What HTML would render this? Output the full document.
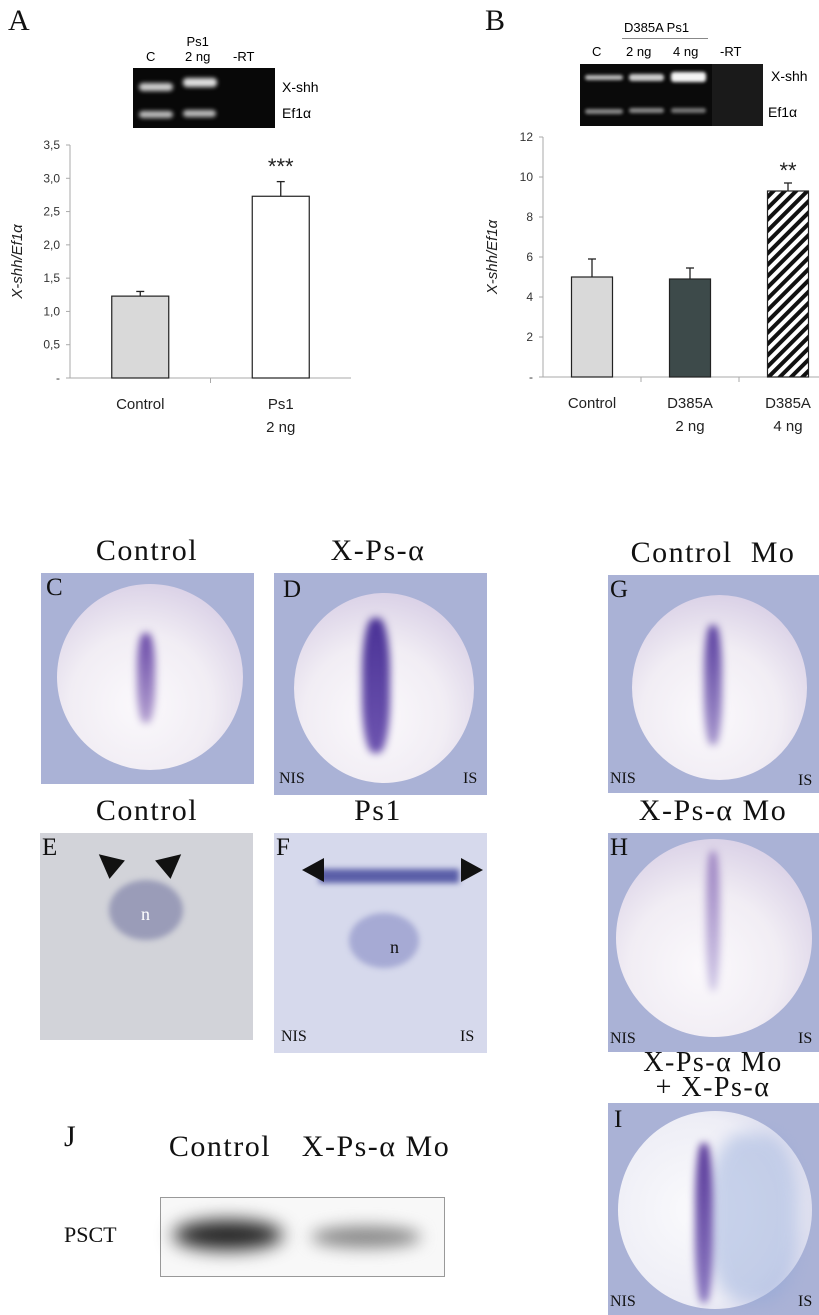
<!DOCTYPE html>
<html><head><meta charset="utf-8"><style>
body{margin:0;width:819px;height:1315px;background:#fff;position:relative;overflow:hidden;font-family:"Liberation Sans",sans-serif}
.a{position:absolute}
.t{position:absolute;font-family:"Liberation Serif",serif;font-size:30px;color:#111;transform:translateX(-50%);white-space:nowrap;letter-spacing:1.5px;z-index:5}
.L{position:absolute;font-family:"Liberation Serif",serif;font-size:25px;color:#111;z-index:5}
.s{position:absolute;font-family:"Liberation Serif",serif;font-size:16px;color:#111;z-index:5}
.p{position:absolute;background:#aab2d6}
.emb{position:absolute;border-radius:50%;background:radial-gradient(circle at 45% 65%,#fbf9fc 0%,#f1edf4 45%,#d9d0e6 80%,#b8abd0 100%)}
.stripe{position:absolute;border-radius:40%;filter:blur(4px)}
</style></head><body>
<svg class="a" style="left:0;top:0" width="819" height="470" id="svg"></svg>
<script>
const catsA=["Control","Ps1|2 ng"];
const valsA=[1.23,2.73];
const errA=[0.07,0.22];
const ticksA=["-","0,5","1,0","1,5","2,0","2,5","3,0","3,5"];
const catsB=["Control","D385A|2 ng","D385A|4 ng"];
const valsB=[5.0,4.9,9.3];
const errB=[0.9,0.55,0.4];
const ticksB=["-","2","4","6","8","10","12"];
const svg=document.getElementById('svg');const NS="http://www.w3.org/2000/svg";
function el(n,a,txt){const e=document.createElementNS(NS,n);for(const k in a)e.setAttribute(k,a[k]);if(txt!==undefined)e.textContent=txt;svg.appendChild(e);return e;}
svg.innerHTML='<defs><pattern id="hatch" width="8" height="8" patternUnits="userSpaceOnUse" patternTransform="rotate(45)"><rect width="8" height="8" fill="#fff"/><rect width="4" height="8" fill="#111"/></pattern></defs>';
function chart(o){
 const y=v=>o.y0-(v/o.max)*(o.y0-o.yTop);
 let ax=el('line',{x1:o.x0,y1:o.yTop,x2:o.x0,y2:o.y0,stroke:'#aaa'});
 
 
 let bx=el('line',{x1:o.x0,y1:o.y0,x2:o.x1,y2:o.y0,stroke:'#aaa'});
 
 
 o.ticks.forEach((t,i)=>{const v=i*o.step;const yy=y(v);
  el('line',{x1:o.x0-4,y1:yy,x2:o.x0,y2:yy,stroke:'#aaa'});
  let tx=el('text',{x:o.x0-10,y:yy+4,'text-anchor':'end','font-size':12,fill:'#333'},t);
  
  });
 const n=o.cats.length,w=(o.x1-o.x0)/n;
 for(let i=1;i<n;i++)el('line',{x1:o.x0+i*w,y1:o.y0,x2:o.x0+i*w,y2:o.y0+5,stroke:'#aaa'});
 o.cats.forEach((c,i)=>{const cx=o.x0+w*(i+0.5),v=o.vals[i],e=o.err[i];
  el('line',{x1:cx,y1:y(v),x2:cx,y2:y(v+e),stroke:'#222','stroke-width':1.3});
  el('line',{x1:cx-4,y1:y(v+e),x2:cx+4,y2:y(v+e),stroke:'#222','stroke-width':1.3});
  let r=el('rect',{x:cx-o.bw/2,y:y(v),width:o.bw,height:o.y0-y(v),fill:o.fills[i],stroke:'#222','stroke-width':1.2});
  
  
  c.split('|').forEach((l,j)=>{let t=el('text',{x:cx,y:o.y0+31+j*23,'text-anchor':'middle','font-size':15,fill:'#222'},l);
   
   });
 });
 let yt=el('text',{x:0,y:0,transform:`translate(${o.tx},${(o.yTop+o.y0)/2}) rotate(-90)`,'text-anchor':'middle','font-size':15,'font-style':'italic',fill:'#222'},'X-shh/Ef1α');
 
 
 let st=el('text',{x:o.x0+w*(n-0.5),y:o.starY,'text-anchor':'middle','font-size':22,fill:'#222'},o.star);
 
 
}
chart({id:'a',cats:catsA,vals:valsA,err:errA,ticks:ticksA,step:0.5,max:3.5,x0:70,x1:351,y0:378,yTop:145,bw:57,fills:['#d9d9d9','#fff'],tx:22,star:'***',starY:174});
chart({id:'b',cats:catsB,vals:valsB,err:errB,ticks:ticksB,step:2,max:12,x0:543,x1:837,y0:377,yTop:137,bw:41,fills:['#d9d9d9','#3d4a4a','url(#hatch)'],tx:497,star:'**',starY:178});
</script>
<div class="L" style="left:8px;top:4px;font-size:30px">A</div>
<div class="L" style="left:485px;top:4px;font-size:30px">B</div>
<!-- gel A -->
<div class="a" style="left:133px;top:68px;width:142px;height:60px;background:#080808">
<div class="a" style="left:6px;top:15px;width:34px;height:8px;background:#ccc;border-radius:4px;filter:blur(2px)"></div>
<div class="a" style="left:50px;top:10px;width:34px;height:9px;background:#ddd;border-radius:4px;filter:blur(2px)"></div>
<div class="a" style="left:6px;top:43px;width:34px;height:7px;background:#bbb;border-radius:4px;filter:blur(2px)"></div>
<div class="a" style="left:50px;top:42px;width:33px;height:7px;background:#bbb;border-radius:4px;filter:blur(2px)"></div></div>
<div class="a" style="left:146px;top:49px;font-size:13px">C</div>
<div class="a" style="left:185px;top:34px;font-size:13px;text-align:center;line-height:15px">Ps1<br>2 ng</div>
<div class="a" style="left:233px;top:49px;font-size:13px">-RT</div>
<div class="a" style="left:282px;top:79px;font-size:14px">X-shh</div>
<div class="a" style="left:282px;top:105px;font-size:14px">Ef1α</div>
<!-- gel B -->
<div class="a" style="left:580px;top:64px;width:183px;height:62px;background:#0a0a0a">
<div class="a" style="left:5px;top:11px;width:38px;height:5px;background:#bbb;border-radius:3px;filter:blur(1.5px)"></div>
<div class="a" style="left:49px;top:10px;width:35px;height:7px;background:#ccc;border-radius:3px;filter:blur(1.5px)"></div>
<div class="a" style="left:91px;top:8px;width:35px;height:10px;background:#f4f4f4;border-radius:3px;filter:blur(1.5px)"></div>
<div class="a" style="left:5px;top:45px;width:38px;height:5px;background:#888;border-radius:3px;filter:blur(1.5px)"></div>
<div class="a" style="left:49px;top:44px;width:35px;height:5px;background:#888;border-radius:3px;filter:blur(1.5px)"></div>
<div class="a" style="left:91px;top:44px;width:35px;height:5px;background:#777;border-radius:3px;filter:blur(1.5px)"></div>
<div class="a" style="left:132px;top:0;width:51px;height:62px;background:#1a1a1a"></div></div>
<div class="a" style="left:624px;top:20px;font-size:13px">D385A Ps1</div>
<div class="a" style="left:622px;top:38px;width:86px;height:1px;background:#888"></div>
<div class="a" style="left:592px;top:44px;font-size:13px">C</div>
<div class="a" style="left:626px;top:44px;font-size:13px">2 ng</div>
<div class="a" style="left:673px;top:44px;font-size:13px">4 ng</div>
<div class="a" style="left:720px;top:44px;font-size:13px">-RT</div>
<div class="a" style="left:771px;top:68px;font-size:14px">X-shh</div>
<div class="a" style="left:768px;top:104px;font-size:14px">Ef1α</div>

<!-- titles -->
<div class="t" style="left:147px;top:534px">Control</div>
<div class="t" style="left:378px;top:534px">X-Ps-α</div>
<div class="t" style="left:713px;top:536px">Control&nbsp; Mo</div>
<div class="t" style="left:147px;top:794px">Control</div>
<div class="t" style="left:378px;top:794px">Ps1</div>
<div class="t" style="left:713px;top:794px">X-Ps-α Mo</div>
<div class="t" style="left:713px;top:1050px;line-height:25px;font-size:28px;text-align:center">X-Ps-α Mo<br>+ X-Ps-α</div>

<!-- C -->
<div class="p" style="left:41px;top:573px;width:213px;height:211px">
<div class="emb" style="left:16px;top:11px;width:186px;height:186px"></div>
<div class="stripe" style="left:96px;top:60px;width:18px;height:90px;background:linear-gradient(#6a4aa8,#b3a0d0)"></div></div>
<div class="L" style="left:46px;top:574px">C</div>
<!-- D -->
<div class="p" style="left:274px;top:573px;width:213px;height:222px">
<div class="emb" style="left:20px;top:20px;width:180px;height:190px"></div>
<div class="stripe" style="left:88px;top:45px;width:28px;height:135px;background:linear-gradient(#4a3296,#6e55b0)"></div></div>
<div class="L" style="left:283px;top:576px">D</div>
<div class="s" style="left:279px;top:770px">NIS</div><div class="s" style="left:463px;top:770px">IS</div>
<!-- G -->
<div class="p" style="left:608px;top:575px;width:211px;height:218px">
<div class="emb" style="left:24px;top:20px;width:175px;height:185px"></div>
<div class="stripe" style="left:96px;top:50px;width:18px;height:120px;background:linear-gradient(#5a3fa0,#a595cc)"></div></div>
<div class="L" style="left:610px;top:576px">G</div>
<div class="s" style="left:610px;top:770px">NIS</div><div class="s" style="left:798px;top:772px">IS</div>
<!-- E -->
<div class="a" style="left:40px;top:833px;width:213px;height:207px;background:#d2d3d9">
<div class="a" style="left:69px;top:47px;width:74px;height:60px;border-radius:50%;background:#9a9cb8;filter:blur(3px)"></div></div>
<div class="L" style="left:42px;top:834px">E</div>
<div class="s" style="left:141px;top:904px;font-size:18px;color:#fff">n</div>
<div class="a" style="left:96px;top:850px;width:0;height:0;border-top:12px solid transparent;border-bottom:12px solid transparent;border-right:24px solid #111;transform:rotate(40deg)"></div>
<div class="a" style="left:160px;top:850px;width:0;height:0;border-top:12px solid transparent;border-bottom:12px solid transparent;border-left:24px solid #111;transform:rotate(-40deg)"></div>
<!-- F -->
<div class="a" style="left:274px;top:833px;width:213px;height:220px;background:#d6d9ec">
<div class="a" style="left:45px;top:36px;width:140px;height:14px;background:#5a5ea8;filter:blur(3px)"></div>
<div class="a" style="left:75px;top:80px;width:70px;height:55px;border-radius:50%;background:#a6aad4;filter:blur(3px)"></div></div>
<div class="L" style="left:276px;top:834px">F</div>
<div class="s" style="left:281px;top:1028px">NIS</div><div class="s" style="left:460px;top:1028px">IS</div>
<div class="s" style="left:390px;top:937px;font-size:18px">n</div>
<div class="a" style="left:302px;top:858px;width:0;height:0;border-top:12px solid transparent;border-bottom:12px solid transparent;border-right:22px solid #111"></div>
<div class="a" style="left:461px;top:858px;width:0;height:0;border-top:12px solid transparent;border-bottom:12px solid transparent;border-left:22px solid #111"></div>
<!-- H -->
<div class="p" style="left:608px;top:833px;width:211px;height:219px">
<div class="emb" style="left:8px;top:6px;width:196px;height:198px"></div>
<div class="stripe" style="left:98px;top:18px;width:14px;height:140px;background:linear-gradient(#9a80c0,#d0c8e6)"></div></div>
<div class="L" style="left:610px;top:834px">H</div>
<div class="s" style="left:610px;top:1030px">NIS</div><div class="s" style="left:798px;top:1030px">IS</div>
<!-- I -->
<div class="p" style="left:608px;top:1103px;width:211px;height:212px">
<div class="emb" style="left:10px;top:8px;width:194px;height:198px;background:radial-gradient(circle at 40% 50%,#fafafc 0%,#eeeef6 60%,#c6c8e4 100%)"></div>
<div class="a" style="left:100px;top:30px;width:90px;height:170px;border-radius:40%;background:#8fa6d8;opacity:.45;filter:blur(8px)"></div>
<div class="stripe" style="left:87px;top:40px;width:18px;height:160px;background:linear-gradient(#5a3a9a,#8a78c0)"></div></div>
<div class="L" style="left:614px;top:1106px">I</div>
<div class="s" style="left:610px;top:1293px">NIS</div><div class="s" style="left:798px;top:1293px">IS</div>
<!-- J -->
<div class="L" style="left:64px;top:1120px;font-size:30px">J</div>
<div class="t" style="left:220px;top:1130px">Control</div>
<div class="t" style="left:376px;top:1130px">X-Ps-α Mo</div>
<div class="L" style="left:64px;top:1222px;font-size:22px">PSCT</div>
<div class="a" style="left:160px;top:1197px;width:283px;height:78px;background:#f8f8f8;border:1px solid #999">
<div class="a" style="left:12px;top:22px;width:110px;height:30px;border-radius:50%;background:#222;filter:blur(9px)"></div>
<div class="a" style="left:150px;top:28px;width:110px;height:22px;border-radius:50%;background:#888;filter:blur(8px)"></div></div>
</body></html>
